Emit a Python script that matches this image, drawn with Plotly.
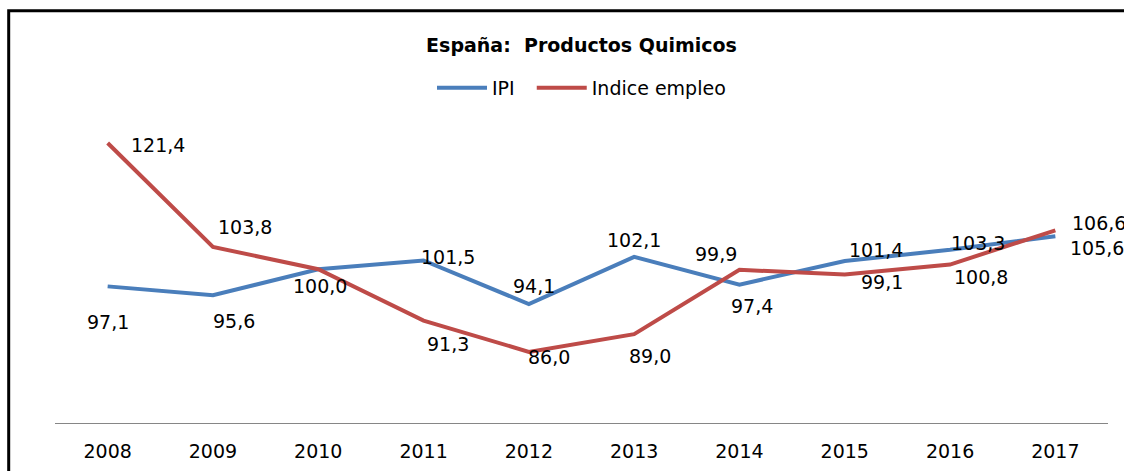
import plotly.graph_objects as go

years = ["2008", "2009", "2010", "2011", "2012", "2013", "2014", "2015", "2016", "2017"]
ipi = [97.1, 95.6, 100.0, 101.5, 94.1, 102.1, 97.4, 101.4, 103.3, 105.6]
empleo = [121.4, 103.8, 100.0, 91.3, 86.0, 89.0, 99.9, 99.1, 100.8, 106.6]
title_text = "España:\u00a0 Productos Quimicos"
series_names = ["IPI\u00a0\u00a0", "Indice empleo"]

# label offsets (style only): (xshift, yshift) in px; None = no label drawn
ipi_off = [(0, -36), (21, -26), None, (24, 3), (5, 18), (0, 17), (13, -21), (31, 11), (28, 7), (42, -12)]
emp_off = [(50, -2), (32, 20), (2, -17), (24, -23), (20, -5), (16, -22), (-23, 16), (37, -7), (31, -12), (44, 7)]

BLUE = "#4A7EBB"
RED = "#BE4B48"
FONT = "DejaVu Sans"

L, R_EDGE, TOP, BOT = 55, 1108, 100, 423
W, H = 1124, 471
PW, PH = R_EDGE - L, BOT - TOP

fig = go.Figure()
fig.add_trace(go.Scatter(x=years, y=ipi, name=series_names[0], mode="lines",
                         line=dict(color=BLUE, width=4)))
fig.add_trace(go.Scatter(x=years, y=empleo, name=series_names[1], mode="lines",
                         line=dict(color=RED, width=4)))

def fmt(v):
    return f"{v:.1f}".replace(".", ",")

annotations = []
for vals, offs in ((ipi, ipi_off), (empleo, emp_off)):
    for i, (v, o) in enumerate(zip(vals, offs)):
        if o is None:
            continue
        annotations.append(dict(x=i, y=v, xref="x", yref="y", text=fmt(v), showarrow=False,
                                xshift=o[0], yshift=o[1],
                                font=dict(family=FONT, size=19, color="black")))

fig.update_layout(
    width=W, height=H,
    margin=dict(l=L, r=W - R_EDGE, t=TOP, b=H - BOT, autoexpand=False),
    paper_bgcolor="white", plot_bgcolor="white",
    title=dict(text=title_text, x=0.5, xref="paper", xanchor="center",
               y=1 - 45 / H, yanchor="middle",
               font=dict(family=FONT, size=19, color="black", weight="bold")),
    legend=dict(orientation="h", x=0.5, xanchor="center", y=(BOT - 88) / PH, yanchor="middle",
                font=dict(family=FONT, size=19, color="black"),
                itemwidth=50,
                bgcolor="rgba(0,0,0,0)"),
    xaxis=dict(type="category", range=[-0.5, 9.5], showline=True, linecolor="#868686",
               linewidth=1, showgrid=False, zeroline=False, ticks="",
               ticklabelstandoff=11,
               tickfont=dict(family=FONT, size=19, color="black")),
    yaxis=dict(range=[73.94, 128.69], visible=False, showgrid=False, zeroline=False),
    annotations=annotations,
    showlegend=True,
)

# outer chart border (extends past right/bottom of the visible area)
fig.add_shape(type="rect", xref="paper", yref="paper",
              x0=(8.7 - L) / PW, x1=(1140 - L) / PW,
              y0=(BOT - 490) / PH, y1=(BOT - 10.7) / PH,
              line=dict(color="black", width=3), fillcolor="rgba(0,0,0,0)")

fig.write_html("out.html", config={"displayModeBar": False},
               post_script="document.body.style.margin='0';document.body.style.overflow='hidden';")
